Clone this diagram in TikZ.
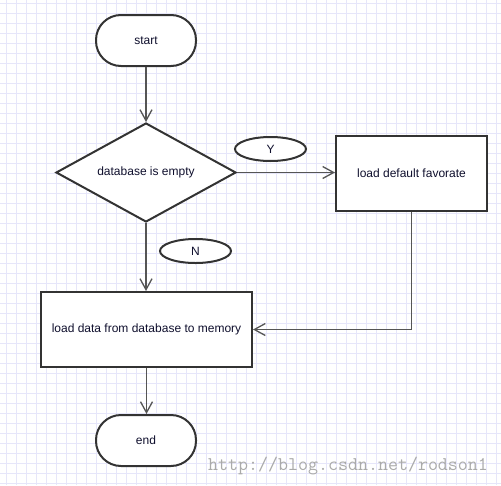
\documentclass[tikz,border=0pt]{standalone}
\usepackage{fontspec}
\setmainfont{Liberation Sans}
\usetikzlibrary{shapes.geometric,arrows.meta}
\definecolor{gridc}{RGB}{230,230,250}
\definecolor{shapec}{RGB}{51,51,51}
\definecolor{linec}{RGB}{85,85,85}
\definecolor{txtc}{RGB}{15,15,45}
\definecolor{wmc}{RGB}{170,170,170}
\tikzset{
  base/.style={draw=shapec, line width=2pt, fill=white, text=txtc, font=\fontsize{12}{14}\selectfont, inner sep=0pt},
  pill/.style={base, rectangle, rounded corners=25pt, minimum width=100pt, minimum height=51pt},
  procbox/.style={base, rectangle, minimum height=75pt},
  decision/.style={base, diamond, aspect=1.8, minimum width=180pt, minimum height=99pt},
  tag/.style={base, ellipse, minimum width=71pt, minimum height=24pt},
  conn/.style={draw=linec, line width=1.5pt, -{Straight Barb[length=11pt,width=12pt,line width=1.3pt]}}
}
\begin{document}
\begin{tikzpicture}[x=1pt,y=-1pt]
\useasboundingbox (0,0) rectangle (501,485);
\fill[white] (0,0) rectangle (501,485);
\foreach \i in {6,16,...,500} \draw[gridc, line width=1pt] (\i,0) -- (\i,485);
\foreach \j in {3,13,...,484} \draw[gridc, line width=1pt] (0,\j) -- (501,\j);

\node[pill] (start) at (146,40.5) {start};
\node[decision] (db) at (146,172.5) {database is empty};
\node[procbox, minimum width=151pt] (ldf) at (411.5,173.5) {load default favorate};
\node[procbox, minimum width=211pt] (ld) at (146.5,329.5) {load data from database to memory};
\node[pill] (end) at (146,440.5) {end};
\node[tag] (Y) at (270.5,149) {Y};
\node[tag] (N) at (195.5,251) {N};

\draw[conn] (start.south) -- (db.north);
\draw[conn] (db.east) -- (db.east -| ldf.west);
\draw[conn] (db.south) -- (db.south |- ld.north);
\draw[conn] (ldf.south) |- (ld.east);
\draw[conn] (ld.south) -- (ld.south |- end.north);

\node[anchor=base west, text=wmc, font=\ttfamily\fontsize{19.4}{20}\selectfont, inner sep=0pt] (wm) at (208,470) {http://blog.csdn.net/rodson1};
\end{tikzpicture}
\end{document}
